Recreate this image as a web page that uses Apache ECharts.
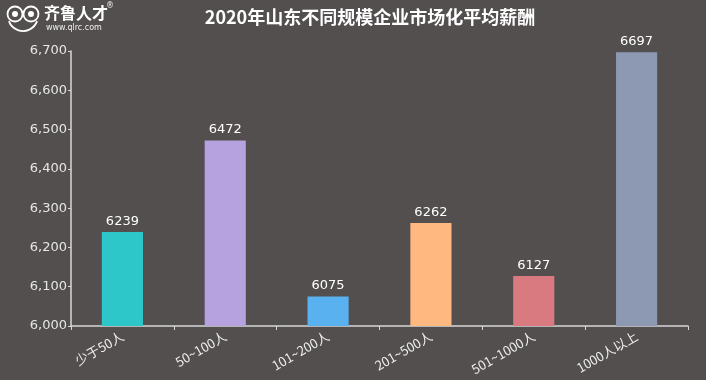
<!DOCTYPE html>
<html><head><meta charset="utf-8">
<script src="https://cdn.jsdelivr.net/npm/echarts@6/dist/echarts.min.js"></script>
<style>html,body{margin:0;padding:0;background:#534f4e;}#c{width:706px;height:380px;}</style>
</head><body><div id="c"></div>
<script>
var categories = ['少于50人','50~100人','101~200人','201~500人','501~1000人','1000人以上'];
var values = [6239, 6472, 6075, 6262, 6127, 6697];
var colors = ['#2ec7c9','#b6a2de','#5ab1ef','#ffb980','#d87a80','#8d98b3'];
var yTicks = {min: 6000, max: 6700, interval: 100};
var titleText = '2020年山东不同规模企业市场化平均薪酬';

var chart = echarts.init(document.getElementById('c'));
chart.setOption({
  backgroundColor: '#534f4e',
  animation: false,
  title: {text: titleText, left: 365, top: 3, textAlign: 'center',
    textStyle: {color: '#fff', fontSize: 18, fontWeight: 'bold', fontFamily: 'Noto Sans CJK SC'}},
  graphic: [
    {type: 'circle', shape: {cx: 15, cy: 14, r: 7.5}, style: {fill: 'none', stroke: '#fff', lineWidth: 1.8}},
    {type: 'circle', shape: {cx: 31, cy: 14, r: 7.5}, style: {fill: 'none', stroke: '#fff', lineWidth: 1.8}},
    {type: 'circle', shape: {cx: 15, cy: 14, r: 3}, style: {fill: '#fff'}},
    {type: 'circle', shape: {cx: 31, cy: 14, r: 3}, style: {fill: '#fff'}},
    {type: 'arc', shape: {cx: 23, cy: 16, r: 15, startAngle: 0.35, endAngle: Math.PI - 0.35}, style: {stroke: '#fff', lineWidth: 1.8, fill: 'none'}},
    {type: 'text', left: 44, top: 5, style: {text: '齐鲁人才', fill: '#fff', font: 'bold 16px "Noto Sans CJK SC"'}},
    {type: 'text', left: 46, top: 24, style: {text: 'www.qlrc.com', fill: '#eee', font: '8px "DejaVu Sans"'}},
    {type: 'text', left: 106, top: 2, style: {text: '®', fill: '#eee', font: '8px "DejaVu Sans"'}}
  ],
  grid: {left: 71, right: 18, top: 51, bottom: 54},
  xAxis: {
    type: 'category', data: categories,
    axisLine: {lineStyle: {color: '#d8d8d8', width: 1.5}},
    axisTick: {show: true, alignWithLabel: false, length: 4, lineStyle: {color: '#d8d8d8'}},
    axisLabel: {color: '#eee', fontSize: 13, rotate: 30, margin: 9, fontFamily: 'Noto Sans CJK SC', interval: 0}
  },
  yAxis: {
    type: 'value', min: yTicks.min, max: yTicks.max, interval: yTicks.interval,
    axisLine: {show: true, lineStyle: {color: '#d8d8d8', width: 1.5}},
    axisTick: {show: true, length: 3, lineStyle: {color: '#d8d8d8'}},
    splitLine: {show: false},
    axisLabel: {color: '#e6e6e6', fontSize: 13, margin: 4, fontFamily: 'DejaVu Sans',
      formatter: function(v){ return v.toLocaleString('en-US'); }}
  },
  series: [{
    type: 'bar', barWidth: '40%',
    data: values.map(function(v, i){ return {value: v, itemStyle: {color: colors[i]}}; }),
    label: {show: true, position: 'top', color: '#fff', fontSize: 13, fontFamily: 'DejaVu Sans', distance: 4}
  }]
});
</script></body></html>
